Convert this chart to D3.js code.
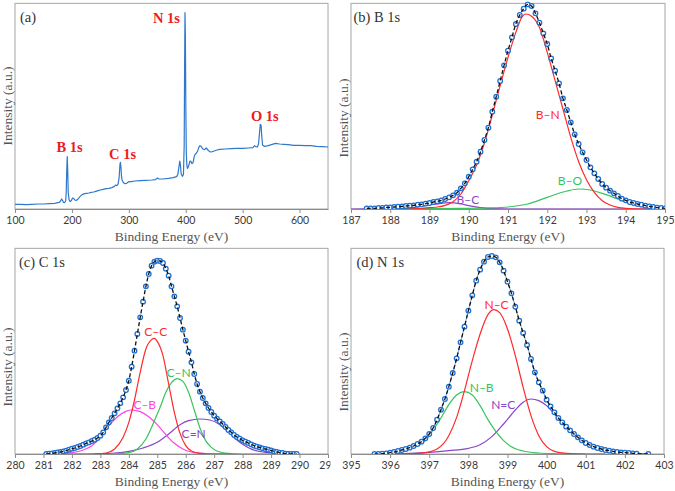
<!DOCTYPE html>
<html><head><meta charset="utf-8">
<script src="https://cdn.jsdelivr.net/npm/d3@7"></script>
<style>body{margin:0;background:#fff}svg{display:block}</style>
</head><body>
<svg id="chart" width="675" height="491"></svg>
<script>
// ---------------- DATA ----------------
// (a) survey spectrum [binding energy, intensity a.u.]
const surveySpectrum = [[100,14],[110,14],[120,13],[130,14],[140,15],[150,15],[160,16],[170,17],[175,19],[178,20],[180,24],[182,30],[183.5,26],[185,20],[187,19],[189,24],[190,50],[191,120],[191.8,157],[192.6,120],[193.5,50],[195,28],[197,22],[199,25],[201,33],[203,32],[205,27],[208,26],[211,30],[214,37],[218,43],[222,46],[226,47],[230,48],[234,50],[238,51],[242,53],[246,55],[250,57],[255,59],[260,61],[265,62],[270,64],[274,67],[277,72],[279,70],[281,74],[283,95],[284.5,135],[285.3,140],[286.2,125],[287,100],[288,88],[290,80],[293,76],[296,77],[300,82],[305,82],[310,84],[320,85],[330,86],[340,87],[347,88],[350,93],[353,90],[360,90],[370,92],[378,94],[384,97],[386,103],[388,125],[389.5,144],[390.5,135],[392,105],[394,98],[396,104],[397.3,190],[398,420],[398.7,589],[399.4,520],[400.2,300],[401,170],[402,130],[403,122],[404.5,126],[406,135],[407.5,144],[409,143],[411,136],[413,140],[415,158],[417,165],[419,168],[421,174],[423,185],[425,190],[427,188],[430,180],[433,178],[436,183],[439,177],[442,172],[445,171],[450,174],[455,177],[460,179],[470,180],[480,181],[490,182],[500,182],[510,183],[518,184],[521,190],[523,187],[526,186],[528,196],[529.5,225],[531,254],[532.5,250],[533.5,220],[535,192],[538,188],[545,190],[552,194],[558,197],[565,195],[572,194],[580,193],[590,191],[600,191],[610,190],[620,190],[630,188],[640,187],[650,186]];
const surveyTicks = [100,200,300,400,500,600];
const surveyLabels = [{t:"N 1s",e:366,i:573},{t:"O 1s",e:539,i:279},{t:"B 1s",e:196,i:186},{t:"C 1s",e:289,i:165}];

// (b) B 1s
const b1sData = [[187.4,2],[187.5,2],[187.6,2],[187.7,3],[187.8,3],[187.9,5],[188.0,5],[188.1,6],[188.2,7],[188.3,8],[188.4,9],[188.5,10],[188.6,11],[188.7,13],[188.8,14],[188.9,16],[189.0,18],[189.1,21],[189.2,23],[189.3,26],[189.4,30],[189.5,35],[189.6,41],[189.7,49],[189.8,62],[189.9,77],[190.0,97],[190.1,119],[190.2,142],[190.3,172],[190.4,207],[190.5,244],[190.6,292],[190.7,337],[190.8,384],[190.9,431],[191.0,475],[191.1,515],[191.2,555],[191.3,582],[191.4,601],[191.5,614],[191.6,609],[191.7,587],[191.8,559],[191.9,527],[192.0,495],[192.1,452],[192.2,415],[192.3,377],[192.4,332],[192.5,297],[192.6,260],[192.7,224],[192.8,195],[192.9,170],[193.0,147],[193.1,125],[193.2,107],[193.3,90],[193.4,75],[193.5,64],[193.6,55],[193.7,47],[193.8,39],[193.9,31],[194.0,26],[194.1,21],[194.2,18],[194.3,15],[194.4,13],[194.5,10],[194.6,8],[194.7,6],[194.8,4],[194.9,3],[195.0,2]];
const b1sBN = [[188.4,0],[188.8,2],[189.0,4],[189.2,6],[189.4,11],[189.6,22],[189.8,45],[190.0,85],[190.2,132],[190.4,198],[190.6,282],[190.8,370],[191.0,455],[191.2,530],[191.35,575],[191.45,585],[191.6,578],[191.8,545],[192.0,470],[192.2,385],[192.4,300],[192.6,215],[192.8,142],[193.0,88],[193.2,50],[193.4,25],[193.6,12],[193.8,5],[194.0,2],[194.4,0],[194.6,0]];
const b1sBO = [[188.0,1],[189.0,1],[190.0,2],[190.5,3],[191.0,6],[191.5,15],[192.0,35],[192.5,54],[192.8,60],[193.1,57],[193.5,43],[194.0,22],[194.5,9],[195.0,3]];
const b1sBC = [[187.0,0],[188.0,1],[188.5,4],[189.0,12],[189.3,17],[189.5,19],[189.8,15],[190.0,10],[190.3,4],[190.6,1],[191.0,0],[195.0,0]];
const b1sTicks = [187,188,189,190,191,192,193,194,195];
const b1sLabels = [{t:"B–N",e:192.01,i:282},{t:"B–O",e:192.58,i:84},{t:"B–C",e:189.98,i:29}];

// (c) C 1s
const c1sData = [[281.1,0],[281.2,1],[281.3,2],[281.4,3],[281.5,5],[281.6,6],[281.7,8],[281.8,10],[281.9,13],[282.0,16],[282.1,18],[282.2,21],[282.3,24],[282.4,28],[282.5,32],[282.6,35],[282.7,39],[282.8,43],[282.9,48],[283.0,55],[283.1,65],[283.2,80],[283.3,95],[283.4,108],[283.5,122],[283.6,137],[283.7,152],[283.8,170],[283.9,192],[284.0,220],[284.1,262],[284.2,310],[284.3,360],[284.4,410],[284.5,457],[284.6,503],[284.7,540],[284.8,565],[284.9,577],[285.0,580],[285.1,579],[285.2,573],[285.3,556],[285.4,535],[285.5,503],[285.6,473],[285.7,443],[285.8,408],[285.9,373],[286.0,340],[286.1,307],[286.2,275],[286.3,240],[286.4,210],[286.5,187],[286.6,168],[286.7,152],[286.8,138],[286.9,126],[287.0,115],[287.1,106],[287.2,98],[287.3,90],[287.4,81],[287.5,72],[287.6,65],[287.7,57],[287.8,51],[287.9,46],[288.0,41],[288.1,37],[288.2,33],[288.3,29],[288.4,25],[288.5,22],[288.6,20],[288.7,17],[288.8,15],[288.9,13],[289.0,11],[289.1,8],[289.2,6],[289.3,4],[289.4,3],[289.5,1],[289.6,0],[289.7,0],[289.8,0],[289.9,0]];
const c1sCC = [[282.8,0],[283.2,3],[283.5,15],[283.8,50],[284.0,95],[284.2,162],[284.4,245],[284.6,315],[284.8,343],[284.9,347],[285.0,338],[285.2,295],[285.4,210],[285.6,125],[285.8,62],[286.0,25],[286.2,9],[286.5,2],[287.0,0],[287.6,0]];
const c1sCN = [[283.4,0],[284.0,4],[284.3,15],[284.6,45],[284.9,100],[285.1,140],[285.3,185],[285.5,214],[285.7,226],[285.9,218],[286.1,185],[286.3,132],[286.5,78],[286.7,40],[286.9,20],[287.2,6],[287.6,1],[288.0,0],[289.0,0]];
const c1sCB = [[281.1,0],[281.5,1],[282.0,4],[282.4,12],[282.7,25],[283.0,50],[283.3,85],[283.6,112],[283.9,128],[284.1,132],[284.4,127],[284.7,112],[285.0,88],[285.3,58],[285.6,32],[285.9,15],[286.2,6],[286.6,2],[287.0,0],[287.8,0]];
const c1sCdN = [[281.1,0],[282.5,0],[283.0,1],[283.5,3],[284.0,8],[284.5,18],[285.0,35],[285.4,60],[285.8,88],[286.1,100],[286.5,105],[286.85,102],[287.2,88],[287.45,70],[287.6,58],[287.8,42],[288.0,29],[288.35,13],[288.8,5],[289.3,1],[289.9,0]];
const c1sTicks = [280,281,282,283,284,285,286,287,288,289,290,291];
const c1sLabels = [{t:"C–C",e:284.95,i:366},{t:"C–N",e:285.75,i:244},{t:"C–B",e:284.56,i:147},{t:"C=N",e:286.28,i:61}];

// (d) N 1s
const n1sData = [[395.6,0],[395.7,0],[395.8,1],[395.9,2],[396.0,4],[396.1,6],[396.2,9],[396.3,12],[396.4,15],[396.5,19],[396.6,24],[396.7,30],[396.8,37],[396.9,47],[397.0,60],[397.1,78],[397.2,103],[397.3,133],[397.4,165],[397.5,202],[397.6,243],[397.7,287],[397.8,335],[397.9,382],[398.0,430],[398.1,476],[398.2,520],[398.3,553],[398.4,577],[398.5,591],[398.6,594],[398.7,590],[398.8,575],[398.9,550],[399.0,517],[399.1,482],[399.2,442],[399.3,400],[399.4,363],[399.5,327],[399.6,285],[399.7,245],[399.8,215],[399.9,190],[400.0,163],[400.1,143],[400.2,125],[400.3,108],[400.4,95],[400.5,82],[400.6,71],[400.7,60],[400.8,50],[400.9,41],[401.0,33],[401.1,27],[401.2,22],[401.3,18],[401.4,15],[401.5,12],[401.6,10],[401.7,8],[401.8,6],[401.9,5],[402.0,4],[402.1,3],[402.2,2],[402.3,1],[402.6,0]];
const n1sNC = [[396.5,0],[396.9,4],[397.2,15],[397.5,55],[397.7,110],[397.9,190],[398.1,280],[398.3,360],[398.5,418],[398.65,433],[398.8,424],[399.0,375],[399.2,295],[399.4,200],[399.6,115],[399.8,55],[400.0,22],[400.2,8],[400.5,2],[401.0,0],[401.5,0]];
const n1sNB = [[395.6,1],[395.8,3],[396.1,7],[396.4,14],[396.7,25],[396.9,40],[397.1,72],[397.3,108],[397.5,148],[397.7,177],[397.9,187],[398.1,177],[398.3,145],[398.5,103],[398.7,68],[398.9,40],[399.1,22],[399.4,9],[399.8,3],[400.2,1],[400.6,0],[401.0,0]];
const n1sNdC = [[395.6,0],[396.5,2],[397.0,5],[397.5,10],[398.0,17],[398.3,28],[398.6,52],[398.9,90],[399.2,132],[399.4,155],[399.6,165],[399.8,160],[400.0,145],[400.2,120],[400.4,97],[400.6,72],[400.8,50],[401.0,33],[401.2,21],[401.4,13],[401.7,7],[402.0,3],[402.4,1],[402.6,0]];
const n1sTicks = [395,396,397,398,399,400,401,402,403];
const n1sLabels = [{t:"N–C",e:398.72,i:449},{t:"N–B",e:398.34,i:199},{t:"N=C",e:398.89,i:149}];

// ---------------- DRAWING ----------------
const SERIF = "'Liberation Serif','DejaVu Serif',serif";
const SANS = "Lato,'Open Sans','Liberation Sans',sans-serif";
const RED = "#ff2a2a", GREEN = "#36c45c", PURPLE = "#8a46c6", PINK = "#ff44e0";
const svg = d3.select("#chart");
const defs = svg.append("defs");

function drawPanel(cfg) {
  const g = svg.append("g");
  const x = d3.scaleLinear().domain(cfg.domain).range([cfg.left, cfg.right]);
  const y = d3.scaleLinear().domain([0, 617]).range([cfg.bottom, cfg.bottom - 617/3]);
  const top = y(617);
  const clipId = "clip" + cfg.id;
  defs.append("clipPath").attr("id", clipId).append("rect")
    .attr("x", cfg.left).attr("y", top - 2).attr("width", cfg.right - cfg.left).attr("height", cfg.bottom - top + 2);

  g.append("rect").attr("x", cfg.left).attr("y", top).attr("width", cfg.right - cfg.left)
    .attr("height", cfg.bottom - top).attr("fill", "#fff").attr("stroke", "#a6a6a6").attr("stroke-width", 1);

  const plot = g.append("g").attr("clip-path", `url(#${clipId})`);
  const lineMono = d3.line().x(d => x(d[0])).y(d => y(d[1])).curve(d3.curveMonotoneX);

  if (cfg.survey) {
    plot.append("path").datum(cfg.survey)
      .attr("d", d3.line().x(d => x(d[0])).y(d => y(d[1])))
      .attr("fill", "none").attr("stroke", "#2f78cc").attr("stroke-width", 1.2).attr("stroke-linejoin", "round");
  }
  (cfg.comps || []).forEach(c => {
    plot.append("path").datum(c.data).attr("d", lineMono)
      .attr("fill", "none").attr("stroke", c.color).attr("stroke-width", 1.2);
  });
  if (cfg.points) {
    if (cfg.blueLine) {
      plot.append("path").datum(cfg.points).attr("d", lineMono)
        .attr("fill", "none").attr("stroke", "#4a8fe0").attr("stroke-width", 0.8);
    }
    plot.selectAll("circle.pt").data(cfg.points).enter().append("circle")
      .attr("class", "pt").attr("cx", d => x(d[0])).attr("cy", d => y(d[1])).attr("r", 2.3)
      .attr("fill", "#fff").attr("stroke", "#1e6fd2").attr("stroke-width", 1.3);
    plot.append("path").datum(cfg.points).attr("d", lineMono)
      .attr("fill", "none").attr("stroke", "#111").attr("stroke-width", 1.3).attr("stroke-dasharray", "4,2.5");
  }

  // axis
  const axG = g.append("g").attr("transform", `translate(0,${cfg.bottom})`);
  if (cfg.tickClip) {
    const tcId = "tclip" + cfg.id;
    defs.append("clipPath").attr("id", tcId).append("rect")
      .attr("x", 0).attr("y", -5).attr("width", cfg.tickClip).attr("height", 30);
    axG.attr("clip-path", `url(#${tcId})`);
  }
  axG.call(d3.axisBottom(x).tickValues(cfg.ticks).tickSize(4).tickSizeOuter(0).tickPadding(4).tickFormat(d3.format("d")));
  axG.select(".domain").attr("stroke", "#8c8c8c");
  axG.selectAll(".tick line").attr("stroke", "#8c8c8c");
  axG.selectAll(".tick text").attr("font-family", SANS).attr("font-size", 10.5).attr("fill", "#3a3a3a");

  // axis titles
  g.append("text").attr("x", (cfg.left + cfg.right) / 2).attr("y", cfg.bottom + 32)
    .attr("text-anchor", "middle").attr("font-family", SERIF).attr("font-size", 13.5).attr("fill", "#555")
    .text("Binding Energy (eV)");
  g.append("text").attr("transform", `translate(${cfg.left - 3},${cfg.ylabY}) rotate(-90)`)
    .attr("text-anchor", "middle").attr("font-family", SERIF).attr("font-size", 13.5).attr("fill", "#555")
    .text("Intensity (a.u.)");

  // panel title
  g.append("text").attr("x", cfg.titleX).attr("y", top + 19).attr("font-family", SERIF)
    .attr("font-size", 14.5).attr("fill", "#333").text(cfg.title);

  (cfg.labels || []).forEach(l => {
    g.append("text").attr("x", x(l.e)).attr("y", y(l.i)).attr("dy", "0.35em")
      .attr("text-anchor", "middle").attr("font-family", l.bold ? SERIF : SANS)
      .attr("font-weight", l.bold ? "bold" : "normal").attr("font-size", l.bold ? 14.5 : 12)
      .attr("fill", l.color).text(l.t);
  });
}

drawPanel({id:"a", left:15, right:328, bottom:209, domain:[100,650], ticks:surveyTicks,
  survey:surveySpectrum, title:"(a)", titleX:20, ylabY:106,
  labels: surveyLabels.map(l => ({...l, color:"#ee1c1c", bold:true}))});

drawPanel({id:"b", left:351, right:665, bottom:209, domain:[187,195], ticks:b1sTicks,
  points:b1sData, title:"(b) B 1s", titleX:353.5, ylabY:118,
  comps:[{data:b1sBC,color:PURPLE},{data:b1sBO,color:GREEN},{data:b1sBN,color:RED}],
  labels:[{...b1sLabels[0],color:RED},{...b1sLabels[1],color:GREEN},{...b1sLabels[2],color:PURPLE}]});

drawPanel({id:"c", left:15, right:328, bottom:454, domain:[280,291], ticks:c1sTicks,
  points:c1sData, title:"(c) C 1s", titleX:19, ylabY:367, tickClip:330.5,
  comps:[{data:c1sCdN,color:PURPLE},{data:c1sCB,color:PINK},{data:c1sCN,color:GREEN},{data:c1sCC,color:RED}],
  labels:[{...c1sLabels[0],color:RED},{...c1sLabels[1],color:GREEN},{...c1sLabels[2],color:PINK},{...c1sLabels[3],color:PURPLE}]});

drawPanel({id:"d", left:351, right:664, bottom:454, domain:[395,403], ticks:n1sTicks,
  points:n1sData, blueLine:true, title:"(d) N 1s", titleX:356.5, ylabY:372,
  comps:[{data:n1sNdC,color:PURPLE},{data:n1sNB,color:GREEN},{data:n1sNC,color:RED}],
  labels:[{...n1sLabels[0],color:RED},{...n1sLabels[1],color:GREEN},{...n1sLabels[2],color:PURPLE}]});
</script>
</body></html>
